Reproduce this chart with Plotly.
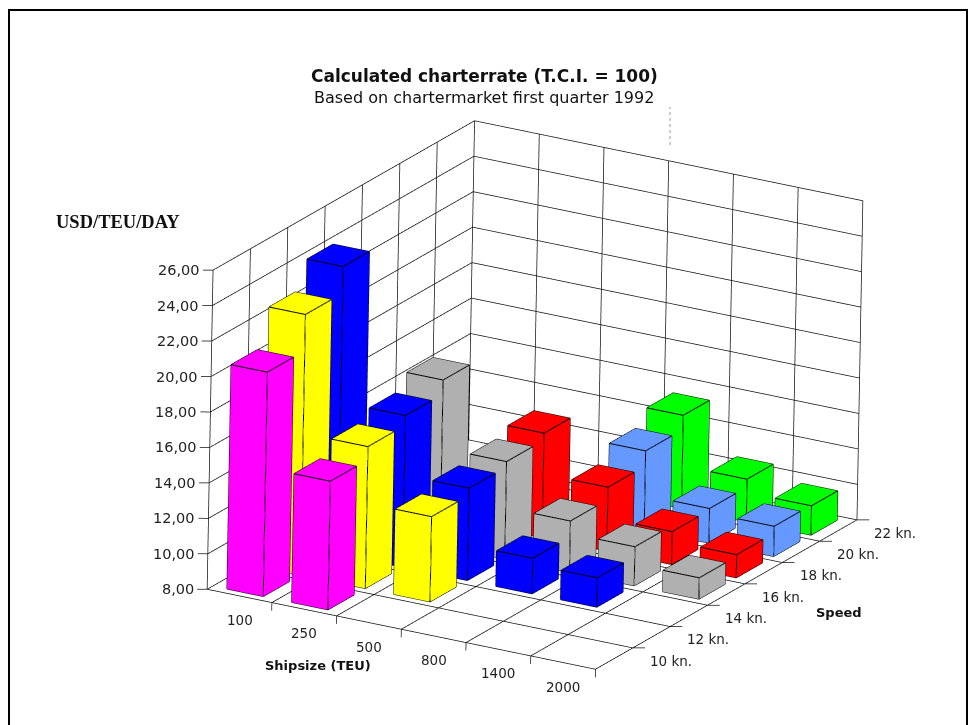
import numpy as np
import plotly.graph_objects as go

# ---- data ----
ship_sizes = ["100", "250", "500", "800", "1400", "2000"]
speeds = ["10 kn.", "12 kn.", "14 kn.", "16 kn.", "18 kn.", "20 kn.", "22 kn."]
z_ticks = [8, 10, 12, 14, 16, 18, 20, 22, 24, 26]
z_tick_labels = ["8,00", "10,00", "12,00", "14,00", "16,00", "18,00", "20,00", "22,00", "24,00", "26,00"]
# rate per ship size, one entry per speed (None = no bar)
rate_100 = [20.65, 22.7, 24.2, None, None, None, None]
rate_250 = [15.25, 16.0, 16.55, 17.35, None, None, None]
rate_500 = [None, 12.8, 13.2, 13.5, 13.9, None, None]
rate_800 = [None, None, 10.0, 10.9, 11.6, 12.45, 13.25]
rate_1400 = [None, None, 9.65, 10.2, 9.85, 9.95, 10.4]
rate_2000 = [None, None, None, 9.2, 9.3, 9.7, 9.65]
rates = [rate_100, rate_250, rate_500, rate_800, rate_1400, rate_2000]
speed_colors = ["#ff00ff", "#ffff00", "#0000ff", "#b0b0b0", "#ff0000", "#6699ff", "#00ff00"]

BAR_W_X, BAR_W_Y = 0.56, 0.70
Z0, Z1 = 8, 26
NX, NY = len(ship_sizes), len(speeds)

fig = go.Figure()

# ---- bars ----
for j, col in enumerate(speed_colors):
    vx, vy, vz, I, J, K = [], [], [], [], [], []
    ex, ey, ez = [], [], []
    for i, row in enumerate(rates):
        v = row[j]
        if v is None:
            continue
        x0, x1 = i + .5 - BAR_W_X / 2, i + .5 + BAR_W_X / 2
        y0, y1 = j + .5 - BAR_W_Y / 2, j + .5 + BAR_W_Y / 2
        n = len(vx)
        vx += [x0, x1, x1, x0, x0, x1, x1, x0]
        vy += [y0, y0, y1, y1, y0, y0, y1, y1]
        vz += [Z0] * 4 + [v] * 4
        faces = [(0, 1, 2), (0, 2, 3), (4, 5, 6), (4, 6, 7), (0, 1, 5), (0, 5, 4),
                 (1, 2, 6), (1, 6, 5), (2, 3, 7), (2, 7, 6), (3, 0, 4), (3, 4, 7)]
        for a, b, c in faces:
            I.append(n + a); J.append(n + b); K.append(n + c)
        for a, b in [(0, 1), (1, 2), (2, 3), (3, 0), (4, 5), (5, 6), (6, 7), (7, 4), (0, 4), (1, 5), (2, 6), (3, 7)]:
            ex += [vx[n + a], vx[n + b], None]
            ey += [vy[n + a], vy[n + b], None]
            ez += [vz[n + a], vz[n + b], None]
    fig.add_trace(go.Mesh3d(x=vx, y=vy, z=vz, i=I, j=J, k=K, color=col, flatshading=True,
                            lighting=dict(ambient=1, diffuse=0, specular=0, roughness=1, fresnel=0),
                            hoverinfo="skip", showscale=False))
    fig.add_trace(go.Scatter3d(x=ex, y=ey, z=ez, mode="lines", line=dict(color="#000000", width=2),
                               hoverinfo="skip", showlegend=False))

# ---- walls, floor, ticks ----
gx, gy, gz = [], [], []
def seg(a, b):
    gx.extend([a[0], b[0], None]); gy.extend([a[1], b[1], None]); gz.extend([a[2], b[2], None])

for z in z_ticks:
    seg((0, 0, z), (0, NY, z))
    seg((0, NY, z), (NX, NY, z))
    seg((-.115, -.07, z), (0, 0, z))
for j in range(NY + 1):
    seg((0, j, Z0), (0, j, Z1))
    seg((0, j, Z0), (NX, j, Z0))
    if j > 0:
        seg((NX, j, Z0), (NX + .14, j + .085, Z0))
for i in range(NX + 1):
    seg((i, 0, Z0), (i, NY, Z0))
    seg((i, NY, Z0), (i, NY, Z1))
    if i > 0:
        seg((i, 0, Z0), (i, 0, Z0 - .45))
fig.add_trace(go.Scatter3d(x=gx, y=gy, z=gz, mode="lines", line=dict(color="#111111", width=1.5),
                           hoverinfo="skip", showlegend=False))

# ---- tick labels ----
TICK_FONT = dict(family="DejaVu Sans", color="#222222")
ann = []
for z, t in zip(z_ticks, z_tick_labels):
    ann.append(dict(x=0, y=0, z=z, text=t, showarrow=False, xanchor="right", yanchor="middle",
                    xshift=-11, font=dict(size=14.5, **TICK_FONT)))
for i, t in enumerate(ship_sizes):
    ann.append(dict(x=i + .5, y=0, z=Z0, text=t, showarrow=False, xanchor="center", yanchor="middle",
                    yshift=-24, font=dict(size=13.5, **TICK_FONT)))
for j, t in enumerate(speeds):
    ann.append(dict(x=NX, y=j + .5, z=Z0, text=t, showarrow=False, xanchor="left", yanchor="middle",
                    xshift=34, yshift=-2, font=dict(size=13.5, **TICK_FONT)))

# ---- camera: orthographic view matching the drawing's three axis directions ----
eye_dir = np.array([.4604, -.822, .3335])
up = dict(x=-.179, y=.282, z=.942)
DIST = 2.0
SCALE = 1.14
eye = eye_dir * DIST
TXT = dict(xref="paper", yref="paper", showarrow=False, xanchor="center", yanchor="middle")

fig.update_layout(
    width=976, height=725, autosize=False,
    margin=dict(l=0, r=0, t=0, b=0),
    paper_bgcolor="white", showlegend=False,
    scene=dict(
        domain=dict(x=[94 / 976, 1], y=[0, 660 / 725]),
        aspectmode="manual", aspectratio=dict(x=1.306 * SCALE, y=1.528 * SCALE, z=1 * SCALE),
        xaxis=dict(visible=False, range=[-.3, NX + .3]),
        yaxis=dict(visible=False, range=[-.3, NY + .3]),
        zaxis=dict(visible=False, range=[Z0 - 1, Z1 + 1]),
        camera=dict(eye=dict(x=eye[0], y=eye[1], z=eye[2]), up=up, center=dict(x=0, y=0, z=0),
                    projection=dict(type="orthographic")),
        annotations=ann,
    ),
    shapes=[
        dict(type="rect", xref="paper", yref="paper", x0=9 / 976, x1=967 / 976, y0=-.02, y1=(725 - 10) / 725,
             line=dict(color="black", width=2), fillcolor="rgba(0,0,0,0)"),
        dict(type="line", xref="paper", yref="paper", x0=670 / 976, x1=670 / 976, y0=1 - 145 / 725, y1=1 - 107 / 725,
             line=dict(color="#999999", width=1, dash="dot")),
    ],
    annotations=[
        dict(text="<b>Calculated charterrate (T.C.I. = 100)</b>", x=484 / 976, y=1 - 76 / 725,
             font=dict(family="DejaVu Sans", size=17, color="#111111"), **TXT),
        dict(text="Based on chartermarket first quarter 1992", x=484 / 976, y=1 - 98 / 725,
             font=dict(family="DejaVu Sans", size=16, color="#111111"), **TXT),
        dict(text="<b>USD/TEU/DAY</b>", x=118 / 976, y=1 - 222 / 725,
             font=dict(family="Liberation Serif", size=18.5, color="#111111"), **TXT),
        dict(text="<b>Shipsize (TEU)</b>", x=318 / 976, y=1 - 665 / 725,
             font=dict(family="DejaVu Sans", size=13, color="#111111"), **TXT),
        dict(text="<b>Speed</b>", x=839 / 976, y=1 - 612 / 725,
             font=dict(family="DejaVu Sans", size=13, color="#111111"), **TXT),
    ],
)
fig.write_html("out.html", config=dict(displayModeBar=False),
               post_script="document.body.style.margin='0';document.body.style.overflow='hidden';")
